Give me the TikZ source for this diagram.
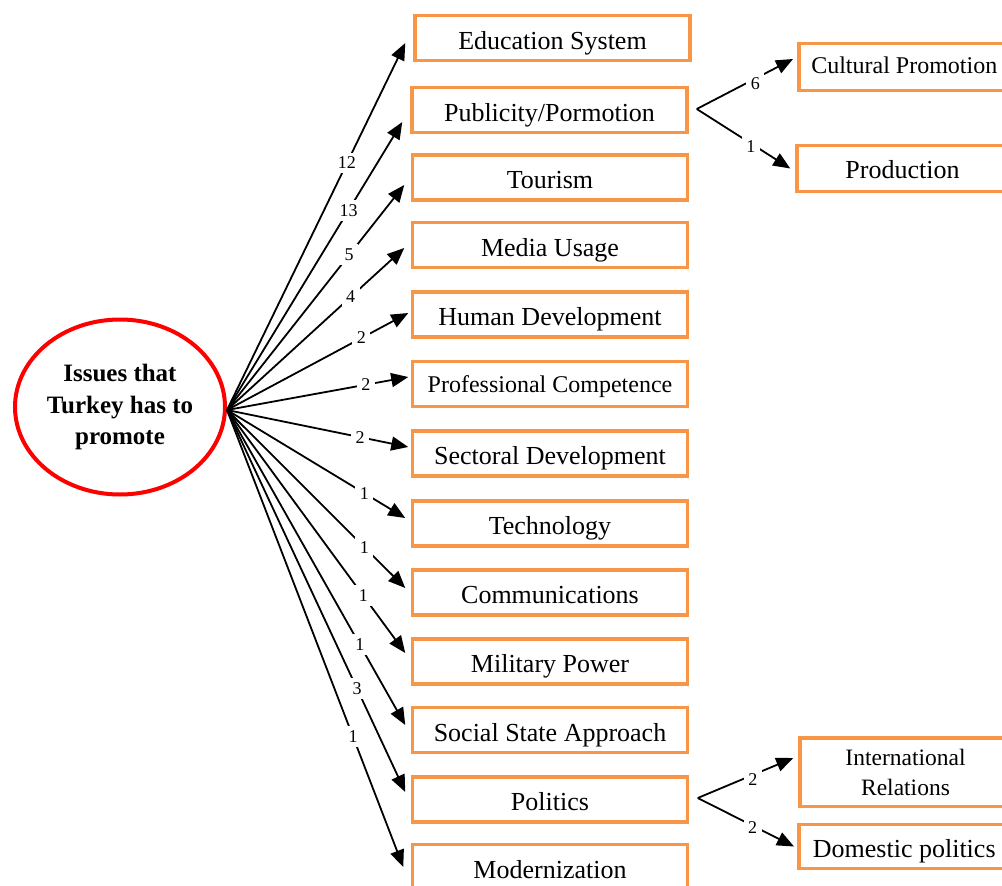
\documentclass[tikz,border=0pt]{standalone}
\usepackage{fontspec}
\setmainfont{Liberation Serif}
\usetikzlibrary{arrows.meta,shapes.geometric}
\definecolor{boxorange}{RGB}{247,150,70}
\definecolor{ringred}{RGB}{255,0,0}
\begin{document}
\begin{tikzpicture}[x=1pt,y=-1pt,
  issue/.style={draw=boxorange, line width=3.5pt, minimum width=275pt, minimum height=45pt,
    inner sep=0pt, text height=22pt, text depth=0pt, font=\fontsize{26}{30}\selectfont},
  subissue/.style={draw=boxorange, line width=3.5pt, minimum width=211pt, minimum height=46pt,
    inner sep=0pt, font=\fontsize{26}{30}\selectfont},
  fan/.style={line width=1.8pt, -{Triangle[length=17pt,width=14pt]}},
  num/.style={fill=white, inner sep=4.5pt, font=\fontsize{18}{18}\selectfont},
]
\useasboundingbox (0,0) rectangle (1002,886);
\clip (0,0) rectangle (1002,886);

% central topic
\node[ellipse, draw=ringred, line width=4pt, minimum width=210pt, minimum height=175pt,
  inner sep=0pt, align=center, font=\bfseries\fontsize{25}{31.5}\selectfont]
  (ell) at (120,407) {Issues that\\Turkey has to\\promote};
\coordinate (hub) at ([yshift=-3pt]ell.east);

% first-level issues
\node[issue] (edu)   at (552.5,38)  {Education System};
\node[issue] (pub)   at (549.5,110) {Publicity/Pormotion};
\node[issue] (tour)  at (550,177.5) {Tourism};
\node[issue] (media) at (550,245)   {Media Usage};
\node[issue] (human) at (550,314.5) {Human Development};
\node[issue, text height=16pt, font=\fontsize{24}{28}\selectfont] (prof) at (550,384) {Professional Competence};
\node[issue] (sect)  at (550,453.5) {Sectoral Development};
\node[issue] (tech)  at (550,523.5) {Technology};
\node[issue] (comm)  at (550,592.5) {Communications};
\node[issue] (mil)   at (550,661.5) {Military Power};
\node[issue] (soc)   at (550,730)   {Social State Approach};
\node[issue] (pol)   at (550,799.5) {Politics};
\node[issue] (mod)   at (550,867)   {Modernization};

% second-level issues
\node[subissue, minimum height=47pt, text height=13pt, text depth=0pt, font=\fontsize{24}{28}\selectfont]
  (cult) at (904.25,67) {Cultural Promotion};
\node[subissue, text height=20pt, text depth=0pt] (prod) at (902.5,168.5) {Production};
\node[subissue, minimum height=68.5pt, align=center, font=\fontsize{23.5}{30}\selectfont]
  (intl) at (905.5,772) {International\\Relations};
\node[subissue, minimum height=44pt, text height=22pt, text depth=0pt] (dom) at (904.25,846.5) {Domestic politics};

% fan of connectors with counts
\draw[fan] (hub) -- ([xshift=-8pt,yshift=-5pt]edu.west)     node[num,pos=.673] {12};
\draw[fan] (hub) -- ([xshift=-8pt,yshift=-12pt]pub.west)    node[num,pos=.694] {13};
\draw[fan] (hub) -- ([xshift=-6.5pt,yshift=-7.5pt]tour.west) node[num,pos=.689] {5};
\draw[fan] (hub) -- ([xshift=-6.5pt,yshift=-3pt]media.west) node[num,pos=.698] {4};
\draw[fan] (hub) -- ([xshift=-2.5pt,yshift=1.5pt]human.west) node[num,pos=.742] {2};
\draw[fan] (hub) -- ([xshift=-2.5pt,yshift=7pt]prof.west)   node[num,pos=.766] {2};
\draw[fan] (hub) -- ([xshift=-2.5pt,yshift=6.5pt]sect.west) node[num,pos=.734] {2};
\draw[fan] (hub) -- ([xshift=-5.5pt,yshift=5.5pt]tech.west) node[num,pos=.77] {1};
\draw[fan] (hub) -- ([xshift=-5.5pt,yshift=4.5pt]comm.west) node[num,pos=.77] {1};
\draw[fan] (hub) -- ([xshift=-5.5pt,yshift=8.5pt]mil.west)  node[num,pos=.765] {1};
\draw[fan] (hub) -- ([xshift=-5.5pt,yshift=5pt]soc.west)    node[num,pos=.745] {1};
\draw[fan] (hub) -- ([xshift=-5.5pt,yshift=7.5pt]pol.west)  node[num,pos=.73] {3};
\draw[fan] (hub) -- ([xshift=-7.5pt]mod.west)               node[num,pos=.715] {1};

% branches to second-level issues
\coordinate (pubfork) at ([xshift=8pt,yshift=1pt]pub.east);
\draw[fan] (pubfork) -- ([xshift=-4pt,yshift=8pt]cult.west) node[num,pos=.61,yshift=-5pt] {6};
\draw[fan] (pubfork) -- ([xshift=-5pt]prod.west)            node[num,pos=.58,yshift=-3pt] {1};
\coordinate (polfork) at ([xshift=8.5pt,yshift=1.5pt]pol.east);
\draw[fan] (polfork) -- ([xshift=-5pt,yshift=14pt]intl.west) node[num,pos=.576,yshift=-5pt] {2};
\draw[fan] (polfork) -- ([xshift=-3pt]dom.west)              node[num,pos=.57,yshift=-2pt] {2};
\end{tikzpicture}
\end{document}
